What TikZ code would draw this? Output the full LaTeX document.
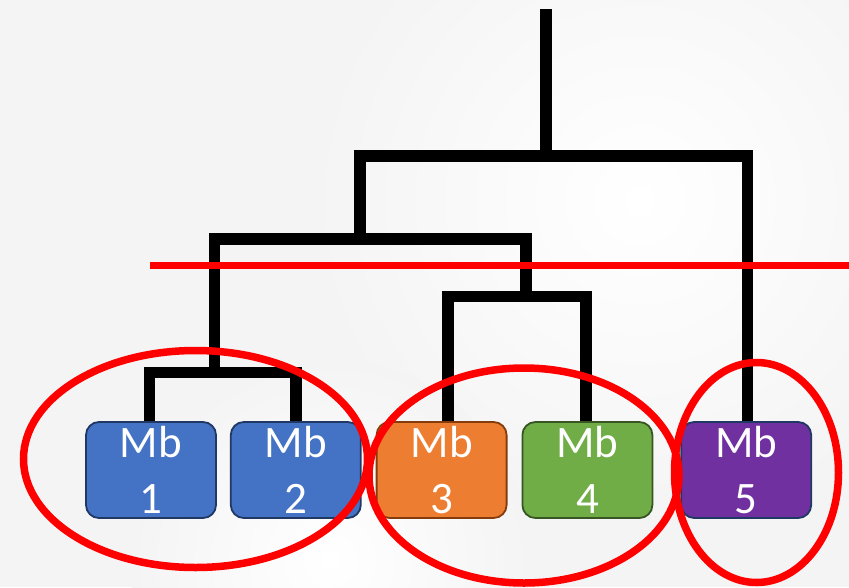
\documentclass[tikz,border=0pt]{standalone}
\usepackage{fontspec}
\setmainfont{Carlito}
\usetikzlibrary{positioning}
\definecolor{bggray}{RGB}{244,244,244}
\definecolor{mbblue}{RGB}{68,114,196}
\definecolor{mbblueline}{RGB}{31,56,100}
\definecolor{mborange}{RGB}{237,125,49}
\definecolor{mborangeline}{RGB}{132,60,12}
\definecolor{mbgreen}{RGB}{112,173,71}
\definecolor{mbgreenline}{RGB}{55,86,35}
\definecolor{mbpurple}{RGB}{112,48,160}
\definecolor{mbpurpleline}{RGB}{31,56,100}

\begin{document}
\begin{tikzpicture}[x=1pt,y=-1pt,
    mb/.style={draw, line width=1.8pt, rounded corners=13pt, minimum width=130pt, minimum height=96pt,
               inner sep=0pt, align=center, text=white, font=\fontsize{45}{56.6}\selectfont},
    link/.style={line width=11.5pt, black},
    cut/.style={line width=7.6pt, red},
    group/.style={line width=7.5pt, red}]
            \useasboundingbox (0,0) rectangle (849,587);
            \fill[bggray] (0,0) rectangle (849,587);
            \shade[inner color=white, outer color=bggray] (640,200) circle (330);
            \shade[inner color=white, outer color=bggray] (330,560) circle (200);

            \node[mb, fill=mbblue, draw=mbblueline] (mb1) at (151,470) {Mb\\1};
            \node[mb, fill=mbblue, draw=mbblueline, right=13pt of mb1] (mb2) {Mb\\2};
            \node[mb, fill=mborange, draw=mborangeline, right=14pt of mb2] (mb3) {Mb\\3};
            \node[mb, fill=mbgreen, draw=mbgreenline, right=14pt of mb3] (mb4) {Mb\\4};
            \node[mb, fill=mbpurple, draw=mbpurpleline, right=27pt of mb4] (mb5) {Mb\\5};

            \coordinate (c12) at (214.5,372.5);
            \coordinate (c34) at (526,296.5);
            \coordinate (c1234) at (360,239);
            \coordinate (call) at (546,156);
            \coordinate (root) at (546,9);

            \draw[link] ([xshift=-1.5pt]mb1.north) |- (c12) -| (mb2.north);
            \draw[link] ([xshift=6.5pt]mb3.north) |- (c34) -| ([xshift=-1.5pt]mb4.north);
            \draw[link] (c12) |- (c1234) -| (c34);
            \draw[link] (c1234) |- (call) -| ([xshift=1.5pt]mb5.north);
            \draw[link] (call) -- (root);

            \coordinate (cutl) at (150,265.5);
            \coordinate (cutr) at (849,265.5);
            \draw[cut] (cutl) -- (cutr);

            \draw[group] (195.5,459) ellipse [x radius=172, y radius=108.5];
            \draw[group] (524,475.5) ellipse [x radius=155, y radius=107.5];
            \draw[group] (756.5,472.5) ellipse [x radius=82, y radius=110];
\end{tikzpicture}
\end{document}
